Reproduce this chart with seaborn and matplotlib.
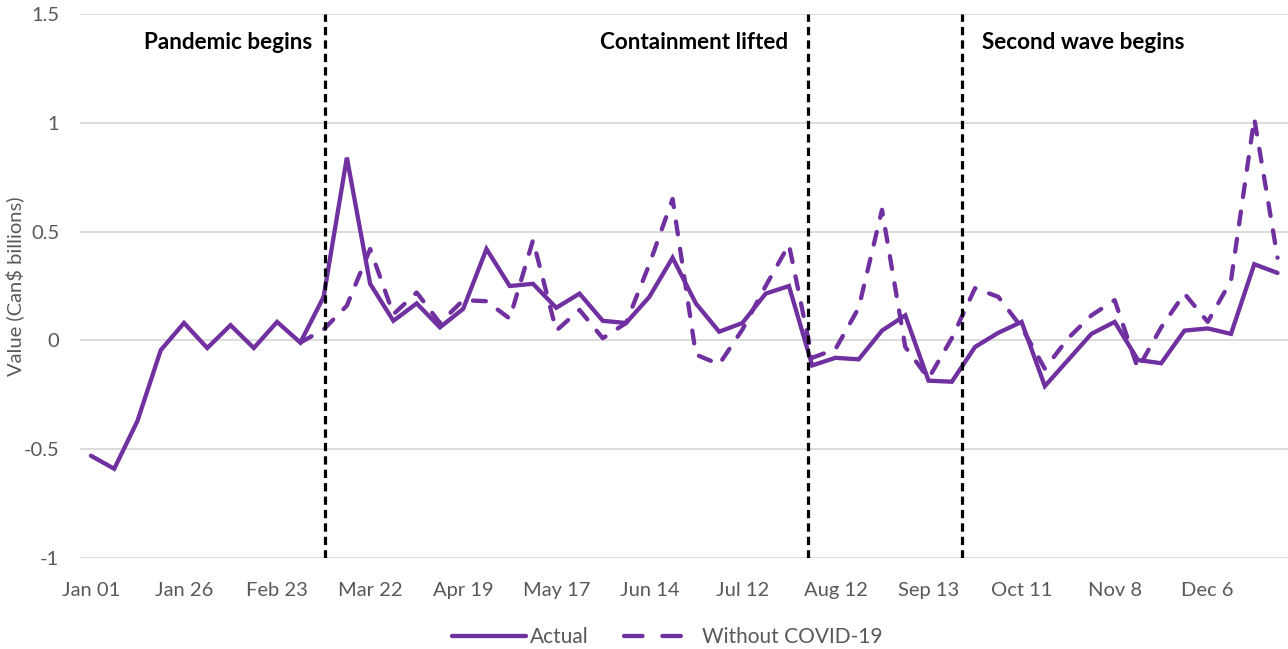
import numpy as np
import pandas as pd
import matplotlib
matplotlib.use("Agg")
import matplotlib.pyplot as plt
import seaborn as sns

# ---- data ----
tick_labels = ["Jan 01", "Jan 26", "Feb 23", "Mar 22", "Apr 19", "May 17", "Jun 14",
               "Jul 12", "Aug 12", "Sep 13", "Oct 11", "Nov 8", "Dec 6"]
actual = [-0.53, -0.59, -0.37, -0.045, 0.08, -0.035, 0.07, -0.035, 0.085, -0.01,
          0.20, 0.84, 0.26, 0.09, 0.17, 0.06, 0.145, 0.42, 0.25, 0.26,
          0.15, 0.215, 0.09, 0.08, 0.20, 0.38, 0.17, 0.04, 0.08, 0.215,
          0.25, -0.115, -0.08, -0.087, 0.045, 0.115, -0.185, -0.19, -0.03, 0.035,
          0.085, -0.21, -0.09, 0.03, 0.085, -0.09, -0.105, 0.045, 0.055, 0.03,
          0.35, 0.31]
without_covid = [np.nan] * 9 + [
          -0.01, 0.05, 0.16, 0.42, 0.12, 0.22, 0.08, 0.185, 0.18, 0.10,
          0.46, 0.045, 0.14, 0.01, 0.08, 0.35, 0.65, -0.065, -0.11, 0.05,
          0.25, 0.44, -0.08, -0.04, 0.15, 0.60, -0.03, -0.175, 0.01, 0.24,
          0.20, 0.06, -0.13, 0.01, 0.115, 0.185, -0.13, 0.06, 0.215, 0.085,
          0.275, 1.02, 0.38]
events = ["Pandemic begins", "Containment lifted", "Second wave begins"]
event_pos = [10.05, 30.8, 37.45]

week = np.arange(len(actual))
df = pd.DataFrame({"week": week, "Actual": actual, "Without COVID-19": without_covid})

sns.set_theme(style="white")
plt.rcParams["font.family"] = ["Lato", "DejaVu Sans"]

purple = "#7030A0"
grey_txt = "#595959"

fig = plt.figure(figsize=(12.88, 6.49), dpi=100)
ax = fig.add_axes([80 / 1288, 1 - 558 / 649, 1 - 80 / 1288, (558 - 14) / 649])

sns.lineplot(data=df, x="week", y="Actual", ax=ax, color=purple, lw=3.1,
             label="Actual", solid_capstyle="round", solid_joinstyle="miter")
sns.lineplot(data=df.dropna(), x="week", y="Without COVID-19", ax=ax, color=purple,
             lw=3.1, label="Without COVID-19")
dline = ax.lines[-1]
dline.set_dashes((3.0, 3.4))
dline.set_dash_capstyle("round")

for xp in event_pos:
    ax.axvline(xp, color="black", lw=2.3, dashes=(2.6, 1.6), zorder=5)

ax.text(9.5, 1.37, events[0], ha="right", va="center", fontsize=16.2,
        fontweight="bold", color="black")
ax.text(29.95, 1.37, events[1], ha="right", va="center", fontsize=16.2,
        fontweight="bold", color="black")
ax.text(38.3, 1.37, events[2], ha="left", va="center", fontsize=16.2,
        fontweight="bold", color="black")

ax.set_xlim(-0.47, 51.45)
ax.set_ylim(-1, 1.5)
ax.set_xticks(np.arange(0, 49, 4))
ax.set_xticklabels(tick_labels)
yt = [-1, -0.5, 0, 0.5, 1, 1.5]
ax.set_yticks(yt)
ax.set_yticklabels(["-1", "-0.5", "0", "0.5", "1", "1.5"])
ax.tick_params(axis="both", length=0, labelsize=14.5, labelcolor=grey_txt)
ax.tick_params(axis="x", pad=17)
ax.tick_params(axis="y", pad=15)
ax.set_xlabel("")
ax.set_ylabel("Value (Can\\$ billions)", fontsize=14.5, color=grey_txt)
ax.yaxis.set_label_coords(-0.046, 0.5)
ax.yaxis.grid(True, color="#d9d9d9", lw=1.3)
ax.xaxis.grid(False)
for s in ax.spines.values():
    s.set_visible(False)

handles, labels = ax.get_legend_handles_labels()
leg = ax.legend(handles, labels, loc="center", bbox_to_anchor=(0.486, -0.145),
                ncol=2, frameon=False, fontsize=15, handlelength=3.55,
                handletextpad=0.2, columnspacing=1.7, labelcolor=grey_txt)
for h in leg.get_lines():
    h.set_linewidth(3.1)
leg.get_lines()[1].set_dashes((4.3, 4.6))
leg.get_lines()[1].set_dash_capstyle("round")
leg.get_lines()[0].set_solid_capstyle("round")

fig.savefig("out.png", dpi=100)
